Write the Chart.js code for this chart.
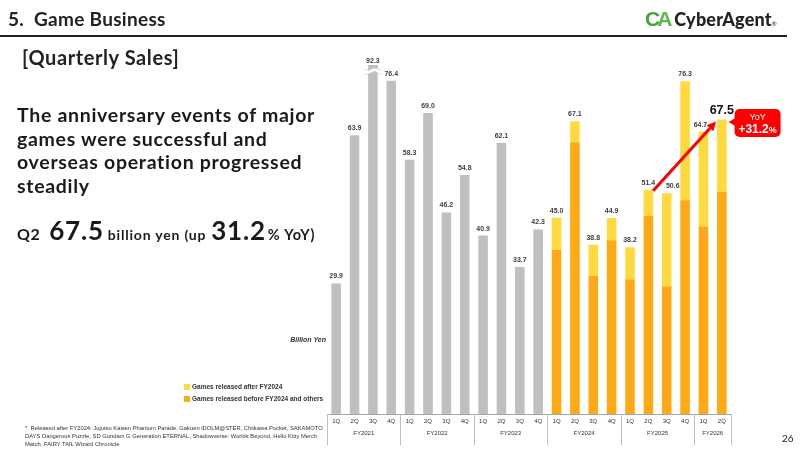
<!DOCTYPE html>
<html><head><meta charset="utf-8">
<script src="https://cdn.jsdelivr.net/npm/chart.js@4"></script>
<style>
body{margin:0;width:800px;height:450px;overflow:hidden;background:#fff;font-family:Lato,"Noto Sans",sans-serif;color:#1a1a1a;}
#wrap{position:relative;width:800px;height:450px;}
canvas{position:absolute;left:0;top:0;}
.abs{position:absolute;white-space:nowrap;}
</style></head><body>
<div id="wrap">
<canvas id="c" width="800" height="450"></canvas>
<div class="abs" style="left:8px;top:7px;font-size:19px;line-height:24px;font-weight:700;color:#222;letter-spacing:0.3px;">5.&nbsp; Game Business</div>
<div style="position:absolute;left:0;top:35px;width:787px;height:2px;background:#222"></div>
<div class="abs" style="left:645px;top:6px;line-height:26px;">
  <span style="font-family:'Liberation Sans';font-weight:900;font-size:21px;color:#3aa935;letter-spacing:-3px;">C</span><span style="font-family:'Liberation Sans';font-weight:900;font-size:21px;color:#59b947;">A</span><span style="font-size:18px;font-weight:900;color:#222;margin-left:2px;letter-spacing:0.2px;">CyberAgent</span><span style="font-size:6px;color:#222;">®</span>
</div>
<div class="abs" style="left:22px;top:45px;font-size:20px;line-height:24px;font-weight:700;color:#222;letter-spacing:0.6px;">[Quarterly Sales]</div>
<div class="abs" style="left:17px;top:103px;font-size:19.5px;line-height:23.5px;font-weight:700;color:#1a1a1a;letter-spacing:0.7px;">The anniversary events of major<br>games were successful and<br>overseas operation progressed<br>steadily</div>
<div class="abs" style="left:17px;top:213px;font-weight:700;color:#1a1a1a;line-height:34px;">
  <span style="font-size:16px;letter-spacing:0.5px;">Q2</span><span style="font-size:26px;margin-left:9px;letter-spacing:0.8px;">67.5</span><span style="font-size:14px;letter-spacing:0.8px;margin-left:4px;">billion yen (up</span><span style="font-size:26px;margin-left:5px;letter-spacing:0.8px;">31.2</span><span style="font-size:14.5px;letter-spacing:0.8px;margin-left:2px;">% YoY)</span>
</div>
<div class="abs" style="left:226px;top:336px;width:100px;text-align:right;font-family:'Liberation Sans';font-size:7px;font-weight:700;font-style:italic;color:#333;">Billion Yen</div>
<div class="abs" style="left:184px;top:384px;width:6px;height:6px;background:#FFD93D"></div>
<div class="abs" style="left:192px;top:383px;font-family:'Liberation Sans';font-size:6.5px;font-weight:700;color:#333;line-height:8px;">Games released after FY2024</div>
<div class="abs" style="left:184px;top:396px;width:6px;height:6px;background:#FFA914"></div>
<div class="abs" style="left:192px;top:395px;font-family:'Liberation Sans';font-size:6.5px;font-weight:700;color:#333;line-height:8px;">Games released before FY2024 and others</div>
<div class="abs" style="left:25px;top:424px;font-family:'Liberation Sans';font-size:5.8px;line-height:8px;color:#333;">*&nbsp; Released after FY2024: Jujutsu Kaisen Phantom Parade, Gakuen iDOLM@STER, Chiikawa Pocket, SAKAMOTO<br>DAYS Dangerous Puzzle, SD Gundam G Generation ETERNAL, Shadowverse: Worlds Beyond, Hello Kitty Merch<br>Match, FAIRY TAIL Wizard Chronicle</div>
<div class="abs" style="left:782px;top:432px;font-size:10px;color:#222;">26</div>
</div>
<script>
const fiscalYears = ['FY2021','FY2022','FY2023','FY2024','FY2025','FY2026'];
const quartersPerYear = [4,4,4,4,4,2];
const categories = ['1Q','2Q','3Q','4Q','1Q','2Q','3Q','4Q','1Q','2Q','3Q','4Q','1Q','2Q','3Q','4Q','1Q','2Q','3Q','4Q','1Q','2Q'];
const salesUntilFY2023 = [29.9,63.9,92.3,76.4,58.3,69.0,46.2,54.8,40.9,62.1,33.7,42.3,null,null,null,null,null,null,null,null,null,null];
const gamesBeforeFY2024 = [null,null,null,null,null,null,null,null,null,null,null,null,37.6,62.3,31.7,39.8,30.9,45.5,29.3,49.0,43.0,51.0];
const gamesAfterFY2024 = [null,null,null,null,null,null,null,null,null,null,null,null,7.4,4.8,7.1,5.1,7.3,5.9,21.3,27.3,21.7,16.5];
const totalLabels = ['29.9','63.9','92.3','76.4','58.3','69.0','46.2','54.8','40.9','62.1','33.7','42.3','45.0','67.1','38.8','44.9','38.2','51.4','50.6','76.3','64.7','67.5'];
const yoyLabel = '+31.2';
const compareFrom = 17, compareTo = 21;

const overlay = {
  id:'overlay',
  afterDatasetsDraw(chart){
    const ctx = chart.ctx, area = chart.chartArea, xs = chart.scales.x;
    const m0 = chart.getDatasetMeta(0), m2 = chart.getDatasetMeta(2);
    const topEl = i => salesUntilFY2023[i] != null ? m0.data[i] : m2.data[i];
    ctx.save();
    for (let i=0;i<categories.length;i++){
      const el = topEl(i);
      if (el.y < area.top){
        const yb = area.top + 6, x0 = el.x - el.width/2 - 4, x1 = el.x + el.width/2 + 4;
        const wave = (off)=>{ctx.beginPath();for(let x=x0;x<=x1;x+=0.5){const yy=yb+off+1.2*Math.sin((x-x0)/2.2);x===x0?ctx.moveTo(x,yy):ctx.lineTo(x,yy);}ctx.stroke();};
        ctx.strokeStyle='#fff';ctx.lineWidth=3;wave(0);
        ctx.strokeStyle='#c8c8c8';ctx.lineWidth=0.7;wave(-2);wave(2);
      }
    }
    ctx.textAlign='center';ctx.textBaseline='middle';
    for (let i=0;i<categories.length;i++){
      const el = topEl(i);
      const top = Math.max(el.y, area.top);
      let dx = 0;
      if (i===18) dx = 6;
      if (i===20) dx = -3;
      if (i===compareTo){
        ctx.font='700 12.5px "Liberation Sans"';ctx.fillStyle='#111';
        ctx.fillText(totalLabels[i], el.x, top-9);
      } else {
        ctx.font='700 7px "Liberation Sans"';ctx.fillStyle='#404040';
        ctx.fillText(totalLabels[i], el.x+dx, top - (el.y<area.top?4:7));
      }
    }
    const b = area.bottom;
    ctx.strokeStyle='#a6a6a6';ctx.lineWidth=1;
    ctx.beginPath();ctx.moveTo(area.left,b+0.5);ctx.lineTo(area.right,b+0.5);ctx.stroke();
    ctx.font='6px "Liberation Sans"';ctx.fillStyle='#333';
    categories.forEach((q,i)=>ctx.fillText(q, xs.getPixelForValue(i), b+7.5));
    const step = xs.getPixelForValue(1)-xs.getPixelForValue(0);
    let start = 0;
    ctx.strokeStyle='#bfbfbf';
    const vline = x=>{ctx.beginPath();ctx.moveTo(Math.round(x)+0.5,b);ctx.lineTo(Math.round(x)+0.5,b+31);ctx.stroke();};
    vline(xs.getPixelForValue(0)-step/2);
    fiscalYears.forEach((fy,g)=>{
      const end = start + quartersPerYear[g] - 1;
      const xa = xs.getPixelForValue(start)-step/2, xb = xs.getPixelForValue(end)+step/2;
      ctx.fillText(fy,(xa+xb)/2,b+19.5);
      vline(xb);
      start = end+1;
    });
    const e1 = m2.data[compareFrom], e2 = m2.data[compareTo];
    const sx = e1.x + e1.width/2, sy = e1.y + 1, tx = e2.x - e2.width/2 - 1, ty = e2.y + 2;
    const ang = Math.atan2(ty-sy, tx-sx), hl = 9, hw = 4.5;
    const lx = tx - hl*Math.cos(ang), ly = ty - hl*Math.sin(ang);
    ctx.strokeStyle='#ff0000';ctx.fillStyle='#ff0000';ctx.lineWidth=3;ctx.lineCap='butt';
    ctx.beginPath();ctx.moveTo(sx,sy);ctx.lineTo(lx,ly);ctx.stroke();
    ctx.beginPath();ctx.moveTo(tx,ty);
    ctx.lineTo(lx + hw*Math.sin(ang), ly - hw*Math.cos(ang));
    ctx.lineTo(lx - hw*Math.sin(ang), ly + hw*Math.cos(ang));
    ctx.closePath();ctx.fill();
    const bx = e2.x + e2.width/2 + 8, by = e2.y - 10.5, bw = 46, bh = 28;
    ctx.fillStyle='#ff0000';
    ctx.beginPath();ctx.roundRect(bx,by,bw,bh,5);ctx.fill();
    ctx.beginPath();ctx.moveTo(bx+1,by+9);ctx.lineTo(bx-6,by+13);ctx.lineTo(bx+1,by+17);ctx.closePath();ctx.fill();
    ctx.fillStyle='#fff';
    ctx.font='9px "Liberation Sans"';ctx.fillText('YoY', bx+bw/2, by+8.5);
    ctx.font='700 12px "Liberation Sans"';
    const w1 = ctx.measureText(yoyLabel).width;
    ctx.font='700 9px "Liberation Sans"';
    const w2 = ctx.measureText('%').width;
    const tx0 = bx + bw/2 - (w1+w2)/2;
    ctx.textAlign='left';
    ctx.font='700 12px "Liberation Sans"';ctx.fillText(yoyLabel, tx0, by+20.5);
    ctx.font='700 9px "Liberation Sans"';ctx.fillText('%', tx0+w1, by+21.5);
    ctx.restore();
  }
};

new Chart(document.getElementById('c'),{
  type:'bar',
  data:{
    labels:categories,
    datasets:[
      {label:'FY2021-FY2023',data:salesUntilFY2023,backgroundColor:'#BFBFBF',clip:0},
      {label:'Games released before FY2024 and others',data:gamesBeforeFY2024,backgroundColor:'#FFA914'},
      {label:'Games released after FY2024',data:gamesAfterFY2024,backgroundColor:'#FFD93D'}
    ]
  },
  options:{
    responsive:false,animation:false,
    layout:{padding:{left:327,right:69,top:65,bottom:36}},
    datasets:{bar:{categoryPercentage:1,barPercentage:0.52}},
    scales:{
      x:{display:false,stacked:true},
      y:{display:false,stacked:true,min:0,max:80}
    },
    plugins:{legend:{display:false},tooltip:{enabled:false}}
  },
  plugins:[overlay]
});
</script>
</body></html>
